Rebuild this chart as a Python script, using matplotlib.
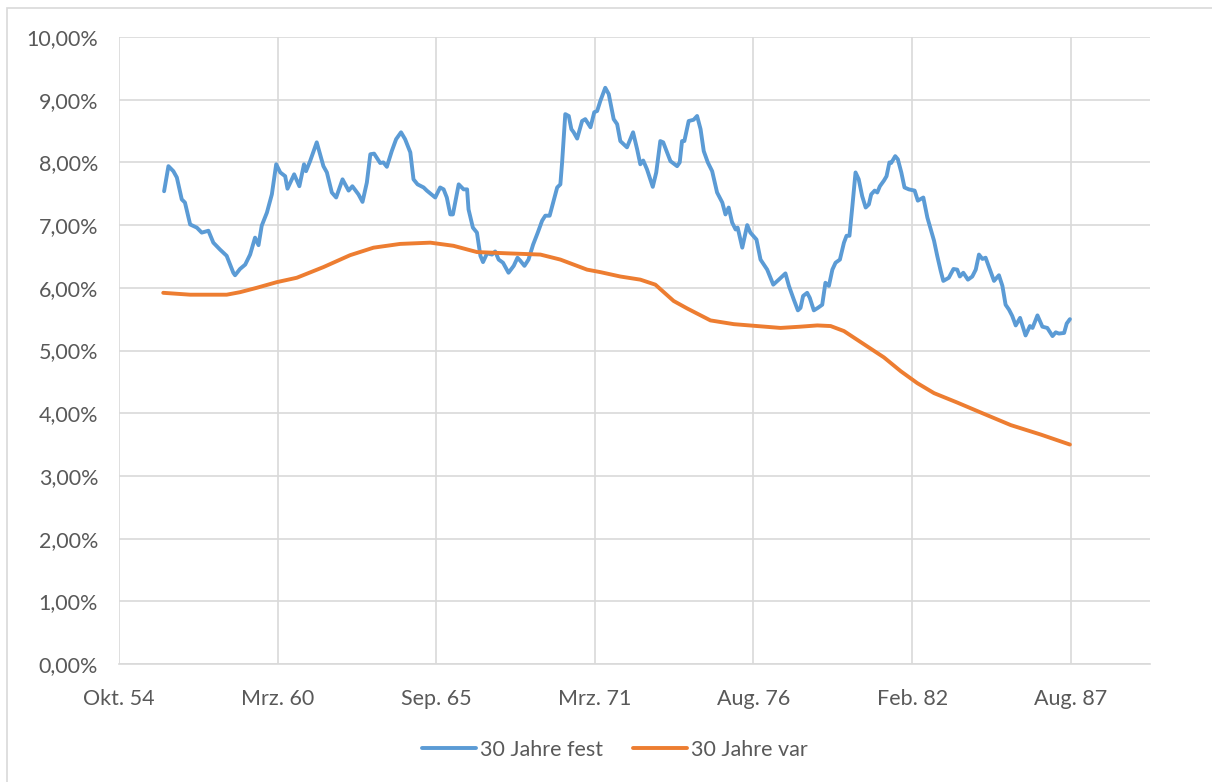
import matplotlib
matplotlib.use("Agg")
import matplotlib.pyplot as plt
import pandas as pd
from matplotlib.patches import Rectangle

# ---- data (decimal years, percent) ----
fest_t = [1956.31, 1956.46, 1956.63, 1956.75, 1956.92, 1957.03, 1957.21, 1957.44, 1957.61, 1957.84,
          1958.01, 1958.24, 1958.47, 1958.70, 1958.76, 1958.93, 1959.11, 1959.28, 1959.45, 1959.57,
          1959.68, 1959.86, 1960.03, 1960.18, 1960.32, 1960.49, 1960.57, 1960.80, 1960.98, 1961.14,
          1961.21, 1961.35, 1961.58, 1961.81, 1961.93, 1962.10, 1962.25, 1962.47, 1962.68, 1962.81,
          1963.02, 1963.16, 1963.31, 1963.43, 1963.56, 1963.77, 1963.88, 1964.00, 1964.17, 1964.32,
          1964.49, 1964.63, 1964.81, 1964.92, 1965.06, 1965.27, 1965.38, 1965.67, 1965.84, 1965.96,
          1966.07, 1966.19, 1966.28, 1966.48, 1966.65, 1966.77, 1966.82, 1966.97, 1967.11, 1967.23,
          1967.32, 1967.46, 1967.63, 1967.74, 1967.86, 1968.01, 1968.20, 1968.38, 1968.51, 1968.61,
          1968.75, 1968.89, 1969.05, 1969.21, 1969.36, 1969.47, 1969.62, 1969.76, 1969.88, 1969.99,
          1970.05, 1970.16, 1970.28, 1970.37, 1970.45, 1970.57, 1970.74, 1970.85, 1971.03, 1971.16,
          1971.26, 1971.37, 1971.54, 1971.66, 1971.83, 1971.95, 1972.06, 1972.29, 1972.50, 1972.64,
          1972.75, 1972.85, 1972.98, 1973.18, 1973.30, 1973.44, 1973.54, 1973.79, 1974.02, 1974.11,
          1974.19, 1974.27, 1974.42, 1974.59, 1974.71, 1974.83, 1974.94, 1975.08, 1975.23, 1975.40,
          1975.58, 1975.69, 1975.80, 1975.92, 1976.04, 1976.11, 1976.27, 1976.44, 1976.55, 1976.76,
          1976.90, 1977.13, 1977.34, 1977.53, 1977.76, 1977.88, 1978.05, 1978.19, 1978.28, 1978.37,
          1978.51, 1978.60, 1978.74, 1978.88, 1979.03, 1979.14, 1979.26, 1979.38, 1979.49, 1979.64,
          1979.78, 1979.87, 1979.97, 1980.07, 1980.18, 1980.29, 1980.41, 1980.53, 1980.64, 1980.72,
          1980.84, 1980.93, 1981.02, 1981.16, 1981.25, 1981.35, 1981.41, 1981.55, 1981.64, 1981.76,
          1981.87, 1982.02, 1982.22, 1982.33, 1982.52, 1982.66, 1982.89, 1983.00, 1983.12, 1983.21,
          1983.40, 1983.56, 1983.69, 1983.78, 1983.90, 1984.06, 1984.21, 1984.33, 1984.44, 1984.56,
          1984.67, 1984.82, 1984.96, 1985.13, 1985.25, 1985.36, 1985.48, 1985.59, 1985.71, 1985.86,
          1986.05, 1986.20, 1986.29, 1986.46, 1986.63, 1986.80, 1986.98, 1987.09, 1987.20, 1987.38,
          1987.47, 1987.58]
fest_v = [7.54, 7.94, 7.86, 7.76, 7.41, 7.36, 7.01, 6.96, 6.88, 6.91,
          6.72, 6.61, 6.51, 6.24, 6.20, 6.30, 6.37, 6.53, 6.80, 6.68,
          6.99, 7.20, 7.49, 7.97, 7.84, 7.78, 7.58, 7.81, 7.62, 7.97,
          7.86, 8.02, 8.32, 7.94, 7.84, 7.52, 7.44, 7.73, 7.55, 7.62,
          7.49, 7.37, 7.68, 8.13, 8.14, 7.99, 8.00, 7.93, 8.18, 8.37,
          8.48, 8.37, 8.16, 7.73, 7.65, 7.60, 7.55, 7.44, 7.60, 7.57,
          7.44, 7.17, 7.17, 7.65, 7.57, 7.57, 7.25, 6.96, 6.88, 6.51,
          6.41, 6.55, 6.53, 6.58, 6.45, 6.40, 6.24, 6.35, 6.48, 6.43,
          6.35, 6.45, 6.69, 6.88, 7.07, 7.15, 7.15, 7.39, 7.60, 7.65,
          8.00, 8.77, 8.74, 8.53, 8.48, 8.38, 8.66, 8.69, 8.56, 8.80,
          8.82, 8.98, 9.19, 9.09, 8.69, 8.61, 8.34, 8.24, 8.48, 8.21,
          7.97, 8.03, 7.89, 7.61, 7.84, 8.34, 8.32, 8.02, 7.94, 8.00,
          8.34, 8.34, 8.66, 8.68, 8.74, 8.53, 8.18, 8.00, 7.86, 7.52,
          7.36, 7.17, 7.28, 7.04, 6.93, 6.96, 6.64, 7.00, 6.88, 6.77,
          6.45, 6.29, 6.05, 6.13, 6.23, 6.03, 5.81, 5.64, 5.68, 5.87,
          5.92, 5.84, 5.64, 5.68, 5.73, 6.08, 6.03, 6.29, 6.40, 6.45,
          6.72, 6.83, 6.83, 7.30, 7.84, 7.73, 7.46, 7.28, 7.33, 7.49,
          7.55, 7.52, 7.62, 7.71, 7.78, 8.00, 7.99, 8.10, 8.05, 7.84,
          7.60, 7.57, 7.55, 7.39, 7.44, 7.12, 6.75, 6.51, 6.27, 6.11,
          6.16, 6.30, 6.29, 6.18, 6.24, 6.13, 6.18, 6.29, 6.53, 6.46,
          6.48, 6.29, 6.11, 6.20, 6.03, 5.73, 5.65, 5.55, 5.40, 5.52,
          5.24, 5.39, 5.36, 5.56, 5.38, 5.36, 5.23, 5.29, 5.27, 5.28,
          5.43, 5.50]

var_t = [1956.28, 1957.21, 1958.47, 1958.93, 1959.51, 1960.20, 1960.89, 1961.81, 1962.73, 1963.54,
         1964.46, 1965.50, 1966.30, 1967.11, 1968.15, 1969.30, 1969.99, 1970.91, 1971.37, 1972.06,
         1972.75, 1973.27, 1973.90, 1974.37, 1975.17, 1975.98, 1976.78, 1977.59, 1978.28, 1978.86,
         1979.32, 1979.78, 1980.47, 1981.16, 1981.74, 1982.31, 1982.89, 1983.69, 1984.61, 1985.54,
         1986.57, 1987.58]
var_v = [5.92, 5.89, 5.89, 5.93, 6.00, 6.09, 6.16, 6.33, 6.52, 6.64,
         6.70, 6.72, 6.67, 6.57, 6.55, 6.53, 6.45, 6.29, 6.25, 6.18,
         6.13, 6.05, 5.79, 5.67, 5.48, 5.42, 5.39, 5.36, 5.38, 5.40,
         5.39, 5.31, 5.10, 4.89, 4.67, 4.48, 4.32, 4.17, 3.99, 3.81,
         3.66, 3.50]

tick_serials = [20000, 22000, 24000, 26000, 28000, 30000, 32000]
tick_labels = ["Okt. 54", "Mrz. 60", "Sep. 65", "Mrz. 71", "Aug. 76", "Feb. 82", "Aug. 87"]
x_max_serial = 33000
y_ticks = [0, 1, 2, 3, 4, 5, 6, 7, 8, 9, 10]
y_labels = ["0,00%", "1,00%", "2,00%", "3,00%", "4,00%", "5,00%", "6,00%", "7,00%", "8,00%", "9,00%", "10,00%"]
series_names = ["30 Jahre fest", "30 Jahre var"]


def serial_to_year(s):
    d = pd.Timestamp("1899-12-30") + pd.Timedelta(days=s)
    start = pd.Timestamp(year=d.year, month=1, day=1)
    nxt = pd.Timestamp(year=d.year + 1, month=1, day=1)
    return d.year + (d - start) / (nxt - start)


plt.rcParams['font.family'] = ['Lato', 'DejaVu Sans']
TXT = "#595959"
GRID = "#d9d9d9"
BLUE = "#5b9bd5"
ORANGE = "#ed7d31"
FS = 15.5

fig = plt.figure(figsize=(12.12, 7.82), dpi=100)
W, H = 1212, 782
ax = fig.add_axes([119 / W, (H - 664) / H, (1150 - 119) / W, (664 - 37) / H])

fig.patches.append(Rectangle((7 / W, -0.1), 1.2, (H - 8) / H + 0.1, transform=fig.transFigure,
                             fill=False, edgecolor=GRID, linewidth=1.2, zorder=0))

xt = [serial_to_year(s) for s in tick_serials]
ax.plot(fest_t, fest_v, color=BLUE, lw=2.8, solid_joinstyle='round', solid_capstyle='round',
        label=series_names[0], zorder=3)
ax.plot(var_t, var_v, color=ORANGE, lw=2.8, solid_joinstyle='round', solid_capstyle='round',
        label=series_names[1], zorder=3)

ax.set_xlim(serial_to_year(tick_serials[0]), serial_to_year(x_max_serial))
ax.set_ylim(0, 10)
ax.set_xticks(xt)
ax.set_xticklabels(tick_labels)
ax.set_yticks(y_ticks)
ax.set_yticklabels(y_labels)
ax.grid(True, color=GRID, lw=1.2)
ax.set_axisbelow(True)
for s in ["top", "right", "left"]:
    ax.spines[s].set_visible(False)
ax.spines["bottom"].set_color(GRID)
ax.spines["bottom"].set_linewidth(1.2)
ax.tick_params(axis='both', length=0, colors=TXT, labelsize=FS)
ax.tick_params(axis='x', pad=18)
ax.tick_params(axis='y', pad=15)

fig.legend(loc='center', bbox_to_anchor=(615 / W, (H - 750) / H), ncol=2, frameon=False,
           fontsize=FS, labelcolor=TXT, handlelength=2.5, handletextpad=0.2, columnspacing=1.4)

fig.savefig("out.png", dpi=100)
